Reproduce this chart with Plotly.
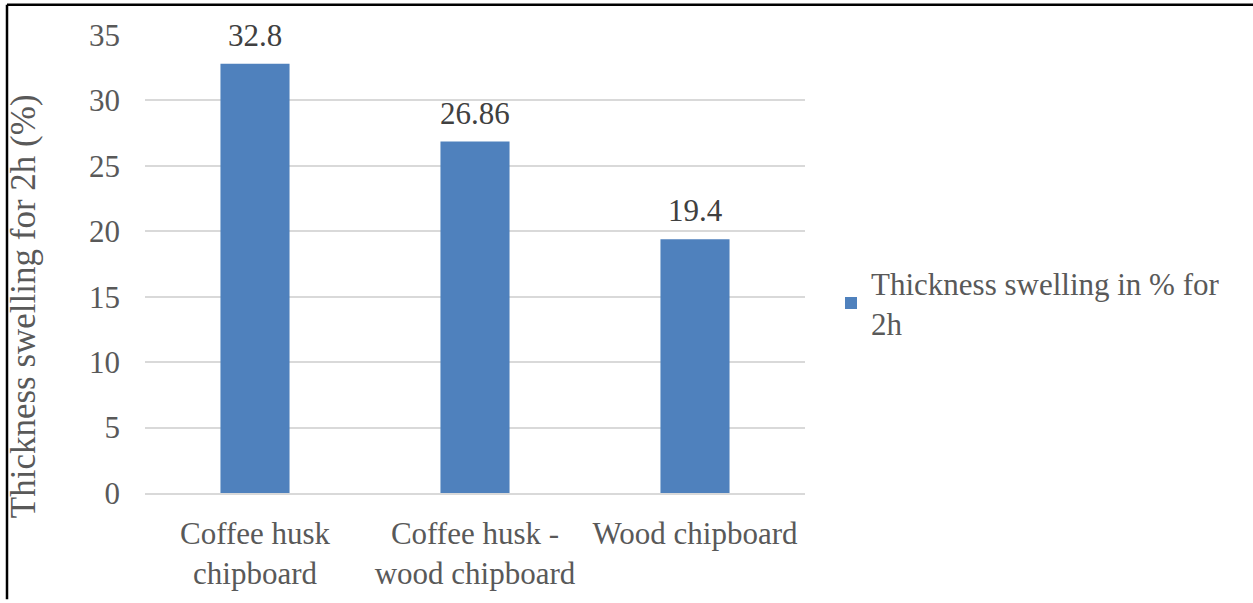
import plotly.graph_objects as go

categories = ["Coffee husk<br>chipboard", "Coffee husk -<br>wood chipboard", "Wood chipboard"]
values = [32.8, 26.86, 19.4]
value_labels = ["32.8", "26.86", "19.4"]
series_name = "Thickness swelling in % for<br>2h"
y_title = "Thickness swelling for 2h (%)"
y_ticks = [0, 5, 10, 15, 20, 25, 30, 35]

FONT = "Liberation Serif, Times New Roman, serif"
TXT = "#595959"

W, H = 1253, 603
ML, MR, MT, MB = 145, 448, 35, 107
PW, PH = W - ML - MR, H - MT - MB

def px2x(px):
    return (px - ML) / PW

def py2y(py):
    return (H - MB - py) / PH

fig = go.Figure()
fig.add_trace(go.Bar(
    x=categories, y=values, name=series_name,
    marker=dict(color="#4F81BD", line=dict(width=0)),
    showlegend=True,
))

value_annotations = [
    dict(x=c, y=v, text=t, xref="x", yref="y", showarrow=False,
         xanchor="center", yanchor="bottom", yshift=9,
         font=dict(family=FONT, size=31, color="#404040"))
    for c, v, t in zip(categories, values, value_labels)
]

fig.update_layout(
    width=W, height=H,
    margin=dict(l=ML, r=MR, t=MT, b=MB, pad=0),
    paper_bgcolor="white", plot_bgcolor="white",
    font=dict(family=FONT, size=31, color=TXT),
    bargap=0.686,
    showlegend=True,
    legend=dict(x=px2x(831), y=py2y(305), xanchor="left", yanchor="middle",
                font=dict(family=FONT, size=31, color=TXT),
                bgcolor="rgba(0,0,0,0)", itemsizing="constant"),
    xaxis=dict(showgrid=False, showline=True, linecolor="#D9D9D9", linewidth=1.5,
               ticks="", tickfont=dict(family=FONT, size=31, color=TXT),
               ticklabelstandoff=12),
    yaxis=dict(range=[0, 35], tickvals=y_ticks, showgrid=True, gridcolor="#D9D9D9",
               gridwidth=1.5, zeroline=False, showline=False, ticks="",
               tickfont=dict(family=FONT, size=31, color=TXT),
               ticklabelstandoff=24),
    annotations=value_annotations + [
        dict(text=y_title, textangle=-90, xref="paper", yref="paper",
             x=px2x(23), y=py2y(308), xanchor="center", yanchor="middle",
             showarrow=False, font=dict(family=FONT, size=35, color=TXT))],
    shapes=[
        dict(type="line", xref="paper", yref="paper", x0=px2x(7), x1=px2x(1253),
             y0=py2y(4.5), y1=py2y(4.5), line=dict(color="black", width=2.5)),
        dict(type="line", xref="paper", yref="paper", x0=px2x(7), x1=px2x(7),
             y0=py2y(4.5), y1=py2y(603), line=dict(color="black", width=2.5)),
    ],
)

fig.write_html("out.html")
